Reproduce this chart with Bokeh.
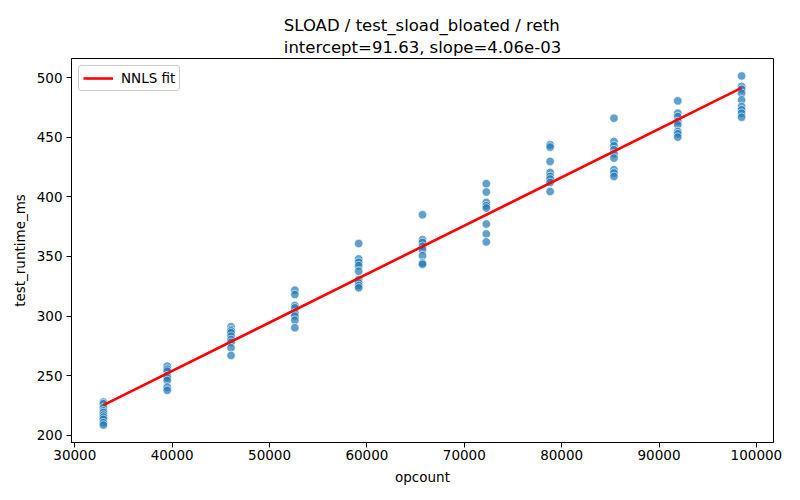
import numpy as np
from bokeh.plotting import figure
from bokeh.models import Range1d, FixedTicker, Legend, LegendItem, ColumnDataSource, BasicTickFormatter
from bokeh.embed import file_html
from bokeh.resources import INLINE

# ---- data ----
opcounts = [32940, 39494, 46048, 52602, 59156, 65710, 72264, 78818, 85372, 91926, 98480]
runtimes = [
    [227.9, 226.5, 223.2, 220.5, 219.0, 217.0, 215.3, 213.4, 210.6, 208.6],
    [258.0, 255.5, 253.8, 250.0, 248.3, 246.0, 240.4, 237.7],
    [291.0, 288.7, 287.5, 286.0, 283.1, 280.4, 278.0, 273.4, 267.0],
    [321.7, 318.1, 308.8, 306.9, 302.7, 300.0, 296.5, 290.2],
    [360.8, 347.9, 345.1, 342.3, 337.6, 330.6, 327.8, 325.6, 323.7],
    [385.0, 364.1, 361.8, 358.5, 355.7, 350.7, 344.6, 343.5],
    [411.0, 404.0, 395.3, 392.6, 390.6, 377.2, 368.9, 362.2],
    [443.6, 441.7, 429.7, 420.5, 417.1, 414.9, 412.1, 404.5],
    [466.0, 446.4, 442.8, 439.5, 436.1, 432.5, 422.7, 420.0, 417.1],
    [480.5, 470.2, 467.3, 463.2, 460.4, 454.8, 452.9, 450.1],
    [501.4, 492.5, 490.3, 486.9, 481.3, 475.7, 473.0, 470.2, 466.8],
]
intercept = 91.63
slope = 4.06e-3
title_lines = ["SLOAD / test_sload_bloated / reth", "intercept=91.63, slope=4.06e-03"]
x_ticks = [30000, 40000, 50000, 60000, 70000, 80000, 90000, 100000]
y_ticks = [200, 250, 300, 350, 400, 450, 500]

xs, ys = [], []
for xv, vals in zip(opcounts, runtimes):
    for v in vals:
        xs.append(xv)
        ys.append(v)

xmin, xmax = min(xs), max(xs)
ymin, ymax = min(ys), max(ys)
xpad = (xmax - xmin) * 0.05
ypad = (ymax - ymin) * 0.05

FONT = "DejaVu Sans"

p = figure(width=800, height=500, output_backend="svg", toolbar_location=None,
           x_range=Range1d(xmin - xpad, xmax + xpad),
           y_range=Range1d(ymin - ypad, ymax + ypad),
           title="\n".join(title_lines),
           min_border_left=71, min_border_right=27, min_border_top=58, min_border_bottom=58)

p.title.align = "center"
p.title.text_font = FONT
p.title.text_font_size = "16.5px"
p.title.text_font_style = "normal"
p.title.text_color = "black"
p.title.text_line_height = 1.15
p.title.standoff = 3
p.title.offset = 0

p.xgrid.visible = False
p.ygrid.visible = False
p.outline_line_color = "black"
p.outline_line_width = 1
p.background_fill_color = "white"
p.border_fill_color = "white"

for ax, ticks in ((p.xaxis, x_ticks), (p.yaxis, y_ticks)):
    ax.ticker = FixedTicker(ticks=ticks)
    ax.formatter = BasicTickFormatter(use_scientific=False)
    ax.major_tick_out = 5
    ax.major_tick_in = 0
    ax.minor_tick_line_color = None
    ax.major_label_text_font = FONT
    ax.major_label_text_font_size = "13.5px"
    ax.major_label_text_color = "black"
    ax.axis_label_text_font = FONT
    ax.axis_label_text_font_size = "13.5px"
    ax.axis_label_text_font_style = "normal"
    ax.axis_label_text_color = "black"
    ax.axis_line_color = "black"
    ax.major_tick_line_color = "black"

p.xaxis.major_label_standoff = 2
p.yaxis.major_label_standoff = 4
p.xaxis.axis_label = "opcount"
p.yaxis.axis_label = "test_runtime_ms"
p.xaxis.axis_label_standoff = 6
p.yaxis.axis_label_standoff = 6

src = ColumnDataSource(dict(x=xs, y=ys))
p.scatter("x", "y", source=src, size=8.5, fill_color="#1f77b4", fill_alpha=0.7,
          line_color="white", line_width=0.7, line_alpha=0.9)

fit_x = [xmin, xmax]
fit_y = [intercept + slope * v for v in fit_x]
fit = p.line(fit_x, fit_y, line_color="red", line_width=2.6)

legend = Legend(items=[LegendItem(label="NNLS fit", renderers=[fit])],
                location="top_left")
legend.label_text_font = FONT
legend.label_text_font_size = "13.5px"
legend.label_text_color = "black"
legend.border_line_color = "#cccccc"
legend.border_line_alpha = 1
legend.border_radius = 3
legend.glyph_width = 30
legend.glyph_height = 12
legend.padding = 4
legend.spacing = 0
legend.margin = 7
legend.label_standoff = 8
legend.label_height = 12
legend.background_fill_alpha = 0.8
p.add_layout(legend)

open("out.html", "w").write(file_html(p, INLINE))
